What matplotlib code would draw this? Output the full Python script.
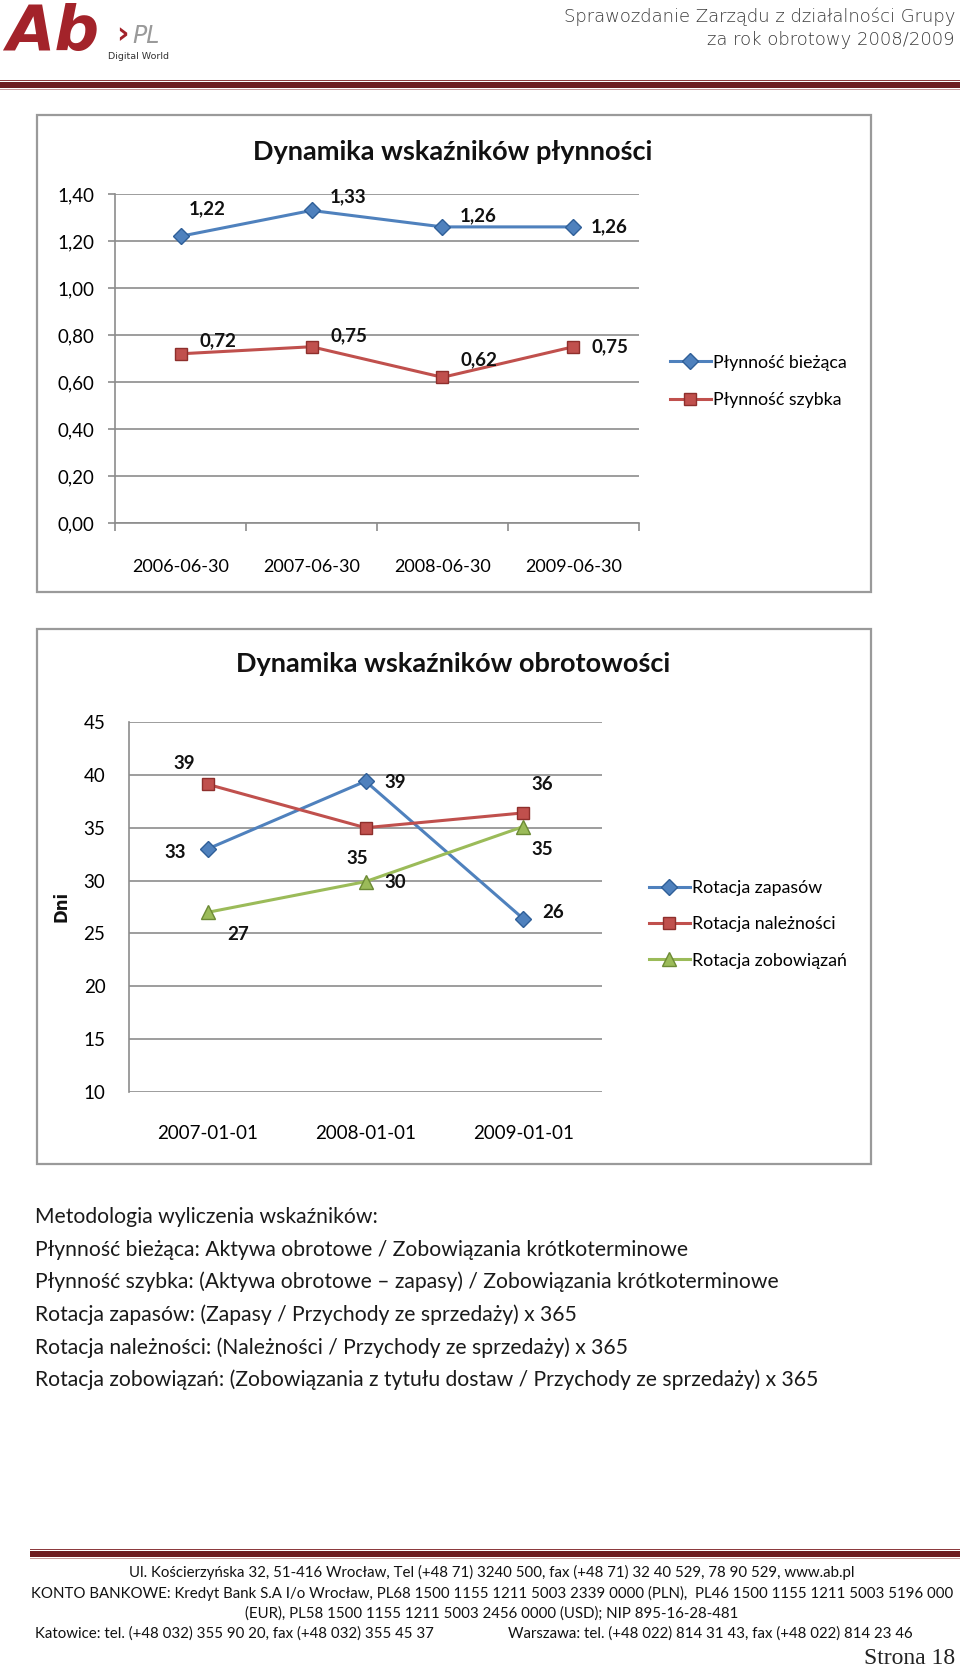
import matplotlib
matplotlib.use("Agg")
import matplotlib.pyplot as plt
from matplotlib.patches import Rectangle
import numpy as np

plt.rcParams['font.family'] = ['Lato', 'DejaVu Sans']

# --- data ---
dates_1 = ['2006-06-30', '2007-06-30', '2008-06-30', '2009-06-30']
plyn_biezaca = [1.22, 1.33, 1.26, 1.26]
plyn_szybka = [0.72, 0.75, 0.62, 0.75]

dates_2 = ['2007-01-01', '2008-01-01', '2009-01-01']
rot_zapasow = [33.0, 39.4, 26.4]
rot_naleznosci = [39.1, 35.0, 36.4]
rot_zobowiazan = [27.0, 29.9, 35.1]

metodologia = [
    'Metodologia wyliczenia wskaźników:',
    'Płynność bieżąca: Aktywa obrotowe / Zobowiązania krótkoterminowe',
    'Płynność szybka: (Aktywa obrotowe – zapasy) / Zobowiązania krótkoterminowe',
    'Rotacja zapasów: (Zapasy / Przychody ze sprzedaży) x 365',
    'Rotacja należności: (Należności / Przychody ze sprzedaży) x 365',
    'Rotacja zobowiązań: (Zobowiązania z tytułu dostaw / Przychody ze sprzedaży) x 365',
]

stopka = [
    'Ul. Kościerzyńska 32, 51-416 Wrocław, Tel (+48 71) 3240 500, fax (+48 71) 32 40 529, 78 90 529, www.ab.pl',
    'KONTO BANKOWE: Kredyt Bank S.A I/o Wrocław, PL68 1500 1155 1211 5003 2339 0000 (PLN),  PL46 1500 1155 1211 5003 5196 000',
    '(EUR), PL58 1500 1155 1211 5003 2456 0000 (USD); NIP 895-16-28-481',
]
katowice = 'Katowice: tel. (+48 032) 355 90 20, fax (+48 032) 355 45 37'
warszawa = 'Warszawa: tel. (+48 022) 814 31 43, fax (+48 022) 814 23 46'

# --- styles ---
W, H = 960, 1669
BLUE, BLUE_E = '#4F81BD', '#2f5f98'
RED, RED_E = '#C0504D', '#8e2f2c'
GREEN, GREEN_E = '#9BBB59', '#6c8a35'
GRID = '#8c8c8c'
MAROON = '#6e1c20'

def fx(x):
    return x / W

def fy(y):
    return 1 - y / H

fig = plt.figure(figsize=(W / 100, H / 100), dpi=100)

# header
fig.text(fx(6), fy(50), 'Ab', fontsize=45, fontweight='bold', style='italic',
         color='#a3232a', family='DejaVu Sans', va='baseline')
fig.text(fx(116), fy(43), '›', fontsize=22, fontweight='bold', color='#a3232a',
         family='DejaVu Sans', va='baseline')
fig.text(fx(132), fy(43), 'PL', fontsize=17, style='italic', color='#9a9a9a',
         family='DejaVu Sans', va='baseline')
fig.text(fx(108), fy(59), 'Digital World', fontsize=6.8, color='#333333',
         family='DejaVu Sans', va='baseline')
fig.text(fx(955), fy(17), 'Sprawozdanie Zarządu z działalności Grupy', fontsize=13,
         color='#3a3a3a', ha='right', va='center', family='DejaVu Sans', fontweight='light')
fig.text(fx(955), fy(40), 'za rok obrotowy 2008/2009', fontsize=13,
         color='#3a3a3a', ha='right', va='center', family='DejaVu Sans', fontweight='light')

def rule(y0, x0):
    fig.add_artist(Rectangle((fx(x0), fy(y0 + 1)), 1 - fx(x0), 1 / H, transform=fig.transFigure,
                             color='#8c3b3f', lw=0))
    fig.add_artist(Rectangle((fx(x0), fy(y0 + 8)), 1 - fx(x0), 6 / H, transform=fig.transFigure,
                             color=MAROON, lw=0))
    fig.add_artist(Rectangle((fx(x0), fy(y0 + 10)), 1 - fx(x0), 1 / H, transform=fig.transFigure,
                             color='#c79a9c', lw=0))

rule(80, 0)
rule(1549, 30)

# chart frames
for top, bottom in [(115, 592), (629, 1164)]:
    fig.add_artist(Rectangle((fx(37), fy(bottom)), fx(871) - fx(37), (bottom - top) / H,
                             transform=fig.transFigure, fill=False, ec='#9a9a9a', lw=1.6))

# --- chart 1 ---
ax1 = fig.add_axes([fx(115), fy(523), 524 / W, 329 / H])
x1 = np.arange(len(dates_1))
ax1.plot(x1, plyn_biezaca, color=BLUE, lw=2.2, marker='D', ms=8.5,
         mfc=BLUE, mec=BLUE_E, label='Płynność bieżąca', zorder=3)
ax1.plot(x1, plyn_szybka, color=RED, lw=2.2, marker='s', ms=9,
         mfc=RED, mec=RED_E, label='Płynność szybka', zorder=3)

off_b = [(27, 28), (37, 14), (36, 11), (36, 0)]
off_s = [(37, 13), (37, 11), (36, 18), (36, 0)]
for vals, offs in [(plyn_biezaca, off_b), (plyn_szybka, off_s)]:
    for i, v in enumerate(vals):
        ax1.annotate(f'{v:.2f}'.replace('.', ','), (x1[i], v), xytext=offs[i],
                     textcoords='offset pixels', ha='center', va='center',
                     fontsize=13.5, fontweight='bold', color='#111111')

ax1.set_xlim(-0.5, 3.5)
ax1.set_ylim(0, 1.4)
ax1.set_yticks(np.arange(0, 1.41, 0.2))
ax1.set_yticklabels([f'{t:.2f}'.replace('.', ',') for t in np.arange(0, 1.41, 0.2)])
ax1.set_xticks(x1)
ax1.set_xticklabels(dates_1)
ax1.set_xticks(np.arange(-0.5, 3.6, 1), minor=True)
ax1.tick_params(axis='x', which='major', length=0, pad=26, labelsize=13)
ax1.tick_params(axis='x', which='minor', length=6, color=GRID, width=1.2)
ax1.tick_params(axis='y', length=5, color=GRID, width=1.2, pad=10, labelsize=13.5)
ax1.grid(axis='y', color=GRID, lw=1.2)
ax1.set_axisbelow(True)
for s in ['top', 'right']:
    ax1.spines[s].set_visible(False)
for s in ['left', 'bottom']:
    ax1.spines[s].set_color(GRID)
    ax1.spines[s].set_linewidth(1.2)
ax1.legend(loc='center left', bbox_to_anchor=(1.059, 0.431), frameon=False, fontsize=12.8,
           handlelength=2.3, handletextpad=0.15, labelspacing=1.2, borderpad=0, borderaxespad=0)
fig.text(fx(453), fy(152), 'Dynamika wskaźników płynności', fontsize=19.5,
         fontweight='bold', ha='center', va='center', color='#111111')

# --- chart 2 ---
ax2 = fig.add_axes([fx(129), fy(1092), 473 / W, 370 / H])
x2 = np.arange(len(dates_2))
ax2.plot(x2, rot_zapasow, color=BLUE, lw=2.2, marker='D', ms=8.5,
         mfc=BLUE, mec=BLUE_E, label='Rotacja zapasów', zorder=3)
ax2.plot(x2, rot_naleznosci, color=RED, lw=2.2, marker='s', ms=9,
         mfc=RED, mec=RED_E, label='Rotacja należności', zorder=3)
ax2.plot(x2, rot_zobowiazan, color=GREEN, lw=2.2, marker='^', ms=10,
         mfc=GREEN, mec=GREEN_E, label='Rotacja zobowiązań', zorder=3)

off_z = [(-33, -4), (30, -1), (30, 6)]
off_n = [(-24, 21), (-8, -31), (19, 28)]
off_o = [(30, -22), (30, -1), (19, -23)]
for vals, offs in [(rot_zapasow, off_z), (rot_naleznosci, off_n), (rot_zobowiazan, off_o)]:
    for i, v in enumerate(vals):
        ax2.annotate(f'{v:.0f}', (x2[i], v), xytext=offs[i],
                     textcoords='offset pixels', ha='center', va='center',
                     fontsize=13.5, fontweight='bold', color='#111111')

ax2.set_xlim(-0.5, 2.5)
ax2.set_ylim(10, 45)
ax2.set_yticks(np.arange(10, 46, 5))
ax2.set_xticks(x2)
ax2.set_xticklabels(dates_2)
ax2.tick_params(axis='x', length=0, pad=24, labelsize=13.5)
ax2.tick_params(axis='y', length=0, pad=17, labelsize=13.5)
ax2.grid(axis='y', color=GRID, lw=1.2)
ax2.set_axisbelow(True)
for s in ['top', 'right', 'bottom']:
    ax2.spines[s].set_visible(False)
ax2.spines['left'].set_color(GRID)
ax2.spines['left'].set_linewidth(1.2)
ax2.legend(loc='center left', bbox_to_anchor=(1.099, 0.4536), frameon=False, fontsize=12.8,
           handlelength=2.3, handletextpad=0.15, labelspacing=1.15, borderpad=0, borderaxespad=0)
fig.text(fx(453), fy(664), 'Dynamika wskaźników obrotowości', fontsize=19.5,
         fontweight='bold', ha='center', va='center', color='#111111')
fig.text(fx(61), fy(906), 'Dni', fontsize=12, fontweight='bold', rotation=90,
         ha='center', va='center', color='#111111', family='DejaVu Sans')

# --- methodology text ---
for i, line in enumerate(metodologia):
    fig.text(fx(35), fy(1217 + i * 32.6), line, fontsize=15.2, ha='left', va='center',
             color='#1a1a1a')

# --- footer ---
for i, line in enumerate(stopka):
    fig.text(fx(492), fy(1572 + i * 21), line, fontsize=10.8, ha='center', va='center',
             color='#111111')
fig.text(fx(35), fy(1634), katowice, fontsize=10.8, ha='left', va='center', color='#111111')
fig.text(fx(508), fy(1634), warszawa, fontsize=10.8, ha='left', va='center', color='#111111')
fig.text(fx(955), fy(1658), 'Strona 18', fontsize=17, ha='right', va='center',
         color='#222222', family='Liberation Serif')

fig.savefig('out.png', dpi=100)
